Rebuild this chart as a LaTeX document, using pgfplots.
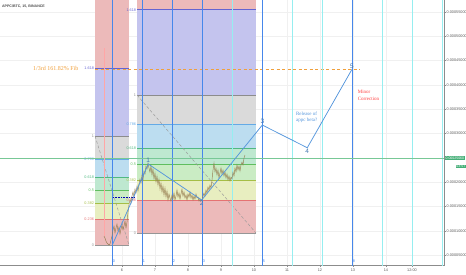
\documentclass[border=0pt]{standalone}
\usepackage{fontspec}
\setmainfont{Liberation Serif}
\setsansfont{Liberation Sans}
\usepackage{pgfplots}
\pgfplotsset{compat=1.18}
\definecolor{fibred}{RGB}{236,186,186}
\definecolor{fibyel}{RGB}{232,238,192}
\definecolor{fibgrn}{RGB}{202,236,196}
\definecolor{fibmint}{RGB}{190,232,208}
\definecolor{fibblue}{RGB}{188,221,240}
\definecolor{fibgray}{RGB}{218,218,218}
\definecolor{fibpurp}{RGB}{196,196,238}
\definecolor{lzero}{RGB}{150,150,150}
\definecolor{lred}{RGB}{229,115,115}
\definecolor{lyel}{RGB}{165,190,70}
\definecolor{lgrn}{RGB}{95,190,95}
\definecolor{lmint}{RGB}{80,185,130}
\definecolor{lblue}{RGB}{100,170,230}
\definecolor{lone}{RGB}{140,140,140}
\definecolor{lpurp}{RGB}{100,100,210}
\definecolor{tzblue}{RGB}{70,135,235}
\definecolor{tzcyan}{RGB}{150,238,240}
\definecolor{wave}{RGB}{85,150,220}
\definecolor{orangeC}{RGB}{240,160,60}
\definecolor{pricec}{RGB}{150,125,80}
\definecolor{curgreen}{RGB}{120,200,150}
\definecolor{boxgreen}{RGB}{70,175,120}
\newcommand{\fiblab}{\sffamily\fontsize{3.8}{4}\selectfont}
\newcommand{\fibfill}[5]{\addplot[draw=none,fill=#5,forget plot] coordinates {(#1,#3) (#2,#3) (#2,#4) (#1,#4)};}
\newcommand{\fiblev}[5]{\addplot[#4,line width=0.45pt,forget plot] coordinates {(#1,#3) (#2,#3)};
  \node[anchor=east,text=#4,font=\fiblab,inner sep=0.8pt] at (axis cs:#1,#3) {#5};}
\newcommand{\tzline}[2]{\addplot[#2,line width=0.7pt,forget plot] coordinates {(#1,2.8) (#1,57.47)};}
\begin{document}
\begin{tikzpicture}
\path[use as bounding box] (0,0) rectangle (466pt,275pt);
\begin{axis}[
  at={(0,9.3pt)}, anchor=south west,
  width=444pt, height=265.7pt, scale only axis,
  xmin=2.303, xmax=15.758, ymin=2.80, ymax=57.47,
  clip mode=individual,
  axis x line*=bottom, axis y line*=right,
  axis line style={draw=black!45,line width=0.4pt},
  tick style={draw=black!45,line width=0.3pt},
  major tick length=1.5pt, tick align=outside,
  /pgf/number format/assume math mode=true,
  ticklabel style={font=\sffamily\fontsize{3.8}{4}\selectfont,text=black!65},
  xtick={6,7,8,9,10,11,12,13,14,14.788},
  xticklabels={6,7,8,9,10,11,12,13,14,12:00},
  ytick={5,10,15,20,30,35,40,45,50,55},
  yticklabels={0.00005000,0.00010000,0.00015000,0.00020000,0.00030000,0.00035000,0.00040000,0.00045000,0.00050000,0.00055000},
  yticklabel style={inner sep=1pt},
  xticklabel style={inner sep=1.2pt},
  grid=major, major grid style={draw=black!6,line width=0.3pt},
]
% ---- Fib retracement 1
\fibfill{5.182}{6.212}{7.06}{12.35}{fibred}
\fibfill{5.182}{6.212}{12.35}{15.63}{fibyel}
\fibfill{5.182}{6.212}{15.63}{18.28}{fibgrn}
\fibfill{5.182}{6.212}{18.28}{20.92}{fibmint}
\fibfill{5.182}{6.212}{20.92}{24.69}{fibblue}
\fibfill{5.182}{6.212}{24.69}{29.49}{fibgray}
\fibfill{5.182}{6.212}{29.49}{43.35}{fibpurp}
\fibfill{5.182}{6.212}{43.35}{60}{fibred}
% ---- Fib retracement 2
\fibfill{6.455}{10.061}{9.52}{16.22}{fibred}
\fibfill{6.455}{10.061}{16.22}{20.37}{fibyel}
\fibfill{6.455}{10.061}{20.37}{23.72}{fibgrn}
\fibfill{6.455}{10.061}{23.72}{27.07}{fibmint}
\fibfill{6.455}{10.061}{27.07}{31.84}{fibblue}
\fibfill{6.455}{10.061}{31.84}{37.92}{fibgray}
\fibfill{6.455}{10.061}{37.92}{55.47}{fibpurp}
\fibfill{6.455}{10.061}{55.47}{60}{fibred}
% levels fib 1
\fiblev{5.182}{6.212}{7.06}{lzero}{0}
\fiblev{5.182}{6.212}{12.35}{lred}{0.236}
\fiblev{5.182}{6.212}{15.63}{lyel}{0.382}
\fiblev{5.182}{6.212}{18.28}{lgrn}{0.5}
\fiblev{5.182}{6.212}{20.92}{lmint}{0.618}
\fiblev{5.182}{6.212}{24.69}{lblue}{0.786}
\fiblev{5.182}{6.212}{29.49}{lone}{1}
\fiblev{5.182}{6.212}{43.35}{lpurp}{1.618}
% levels fib 2
\fiblev{6.455}{10.061}{9.52}{lzero}{0}
\fiblev{6.455}{10.061}{16.22}{lred}{0.236}
\fiblev{6.455}{10.061}{20.37}{lyel}{0.382}
\fiblev{6.455}{10.061}{23.72}{lgrn}{0.5}
\fiblev{6.455}{10.061}{27.07}{lmint}{0.618}
\fiblev{6.455}{10.061}{31.84}{lblue}{0.786}
\fiblev{6.455}{10.061}{37.92}{lone}{1}
\fiblev{6.455}{10.061}{55.47}{lpurp}{1.618}
% fib trend lines
\addplot[black!40,densely dashed,line width=0.45pt,forget plot] coordinates {(5.182,29.49) (6.212,7.06)};
\addplot[black!40,densely dashed,line width=0.45pt,forget plot] coordinates {(6.455,37.92) (10.061,9.52)};
% orange 161.8% target
\addplot[orangeC,line width=0.7pt,dash pattern=on 3pt off 2.5pt,forget plot] coordinates {(5.182,43.3) (13.212,43.3)};
\node[anchor=east,text=orangeC,font=\fontsize{6}{6}\selectfont,inner sep=0.5pt] at (axis cs:4.697,43.3) {1/3rd 161.82\% Fib};
% fib time zones
\tzline{9.333}{tzcyan}
\tzline{11.152}{tzcyan}
\tzline{12.061}{tzcyan}
\tzline{13.879}{tzcyan}
\tzline{14.788}{tzcyan}
\tzline{15.697}{tzcyan}
\tzline{5.697}{tzblue}
\tzline{6.606}{tzblue}
\tzline{7.515}{tzblue}
\tzline{8.424}{tzblue}
\tzline{10.242}{tzblue}
\tzline{12.970}{tzblue}
\foreach \xx/\lab in {5.697/0,6.606/1,7.515/2,8.424/3,10.242/5,12.970/8}{
  \edef\tmp{\noexpand\node[anchor=west,text=tzblue,font=\noexpand\fiblab,inner sep=0.6pt] at (axis cs:\xx,3.82) {\lab};}\tmp
}
% current price line
\addplot[curgreen,line width=0.5pt,forget plot] coordinates {(2.303,25.0) (15.758,25.0)};
% dotted blue line
\addplot[blue!70!black,densely dotted,line width=0.6pt,forget plot] coordinates {(5.727,16.79) (6.394,16.79)};
% listing wick
\addplot[red!35!white,line width=0.5pt,forget plot] coordinates {(5.455,47.59) (5.455,8.90)};
% price series (APPC/BTC, 15m)
\addplot[pricec,line width=0.45pt,forget plot] table {
5.455 8.90
5.485 8.49
5.515 7.87
5.545 7.46
5.576 7.25
5.606 7.05
5.636 7.25
5.667 8.08
5.697 8.90
5.727 10.14
5.758 10.96
5.788 9.52
5.818 10.55
5.848 11.37
5.879 9.93
5.909 10.75
5.939 9.31
5.970 10.34
6.000 11.16
6.030 10.14
6.061 10.96
6.091 11.99
6.121 10.55
6.152 11.78
6.182 13.84
6.212 15.28
6.242 16.52
6.273 15.69
6.303 17.13
6.333 17.96
6.364 16.93
6.394 18.57
6.424 17.75
6.455 19.19
6.485 18.16
6.515 19.60
6.545 20.63
6.576 19.81
6.606 21.46
6.636 20.43
6.667 22.28
6.697 21.66
6.727 23.31
6.758 22.69
6.788 23.92
6.818 22.90
6.848 22.07
6.879 23.31
6.909 21.46
6.939 22.69
6.970 20.63
7.000 21.87
7.030 20.01
7.061 21.25
7.091 19.40
7.121 20.63
7.152 18.57
7.182 19.81
7.212 17.96
7.242 19.19
7.273 17.34
7.303 18.78
7.333 16.93
7.364 18.16
7.394 16.31
7.424 17.55
7.455 16.72
7.485 16.10
7.515 17.34
7.545 16.52
7.576 17.75
7.606 16.31
7.636 17.13
7.667 18.37
7.697 16.93
7.727 17.75
7.758 16.52
7.788 17.55
7.818 18.57
7.848 17.13
7.879 17.96
7.909 16.72
7.939 17.34
7.970 16.31
8.000 17.55
8.030 16.93
8.061 17.96
8.091 16.72
8.121 17.34
8.152 16.31
8.182 17.13
8.212 16.52
8.242 17.55
8.273 16.72
8.303 16.93
8.333 16.10
8.364 16.52
8.394 16.10
8.424 16.31
8.455 17.13
8.485 17.75
8.515 17.13
8.545 18.37
8.576 17.75
8.606 18.99
8.636 18.37
8.667 19.40
8.697 18.78
8.727 20.43
8.758 22.48
8.788 23.92
8.818 22.07
8.848 22.90
8.879 21.46
8.909 22.48
8.939 20.84
8.970 21.87
9.000 22.90
9.030 21.66
9.061 22.48
9.091 21.25
9.121 22.07
9.152 20.84
9.182 21.66
9.212 20.43
9.242 21.25
9.273 20.22
9.303 21.04
9.333 20.63
9.364 22.07
9.394 21.25
9.424 22.90
9.455 22.07
9.485 23.51
9.515 22.48
9.545 23.31
9.576 22.28
9.606 23.51
9.636 24.13
9.667 23.51
9.697 24.95
9.727 25.57
};
% Elliott wave count
\addplot[wave,line width=0.75pt,forget plot] coordinates {
(5.706,7.05) (6.797,23.72) (8.415,16.31) (10.252,31.74) (11.615,27.07) (12.970,43.21)};
\node[anchor=south,text=wave!80!black,font=\sffamily\fontsize{6.5}{7}\selectfont,inner sep=1pt] at (axis cs:6.797,23.72) {1};
\node[anchor=north,text=wave!80!black,font=\sffamily\fontsize{6.5}{7}\selectfont,inner sep=1pt] at (axis cs:8.415,16.31) {2};
\node[anchor=south,text=wave!80!black,font=\sffamily\fontsize{6.5}{7}\selectfont,inner sep=1pt] at (axis cs:10.252,31.74) {3};
\node[anchor=north,text=wave!80!black,font=\sffamily\fontsize{6.5}{7}\selectfont,inner sep=1pt] at (axis cs:11.615,27.07) {4};
\node[anchor=south,text=wave!80!black,font=\sffamily\fontsize{6.5}{7}\selectfont,inner sep=1pt] at (axis cs:12.970,43.21) {5};
% annotations
\node[anchor=north west,text=wave,font=\fontsize{5}{6}\selectfont,align=left,inner sep=0pt] at (axis cs:11.27,34.4) {Release of\\appc beta?};
\node[anchor=north west,text=red!75!white,font=\fontsize{5}{6.5}\selectfont,align=left,inner sep=0pt] at (axis cs:13.14,38.9) {Minor\\Correction};
\node[anchor=north west,text=black!70,font=\sffamily\bfseries\fontsize{3.6}{4}\selectfont,inner sep=0pt] at (axis cs:2.36,56.5) {APPC/BTC, 15, BINANCE};
% last price tag
\node[anchor=west,fill=boxgreen,text=white,font=\sffamily\fontsize{3.5}{4}\selectfont,inner sep=0.6pt,xshift=0.8pt] at (axis cs:15.758,25.0) {0.00025060};
\node[anchor=east,fill=boxgreen,text=white,font=\sffamily\fontsize{3.5}{4}\selectfont,inner sep=0.6pt,xshift=22pt] at (axis cs:15.758,23.2) {03:57};
\end{axis}
\end{tikzpicture}
\end{document}
